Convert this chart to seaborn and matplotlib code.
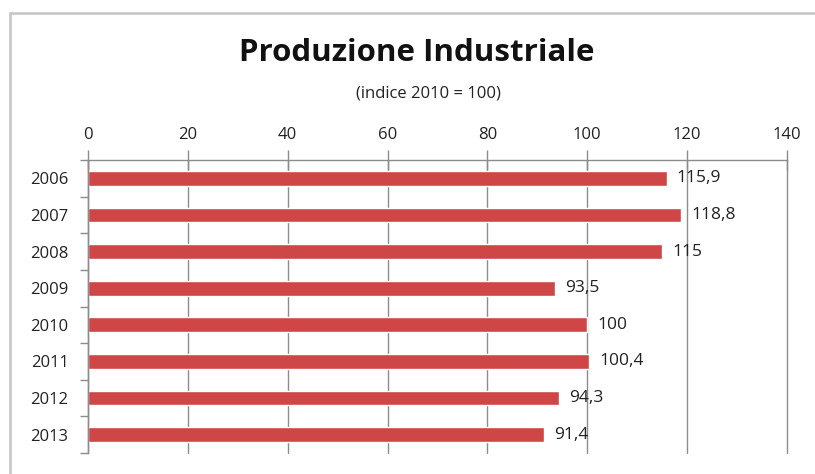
import matplotlib
matplotlib.use("Agg")
import matplotlib.pyplot as plt
import seaborn as sns
import pandas as pd
from matplotlib.lines import Line2D

years = ["2006", "2007", "2008", "2009", "2010", "2011", "2012", "2013"]
values = [115.9, 118.8, 115, 93.5, 100, 100.4, 94.3, 91.4]
xticks = [0, 20, 40, 60, 80, 100, 120, 140]

sns.set_theme(style="white")
plt.rcParams['font.family'] = ['Open Sans', 'DejaVu Sans']

df = pd.DataFrame({"anno": years, "indice": values})

fig = plt.figure(figsize=(8.15, 4.74), dpi=100)
ax = fig.add_axes([88/815, 1-453/474, (787-88)/815, (453-160)/474])

sns.barplot(data=df, x="indice", y="anno", orient="h", color="#CE4646",
            saturation=1, width=0.4, ax=ax, order=years)

ax.set_xlim(0, 140)
ax.set_ylim(7.5, -0.5)
ax.set_xticks(xticks)
ax.set_xlabel("")
ax.set_ylabel("")
ax.xaxis.grid(True, color="#8c8c8c", linewidth=1)
ax.set_axisbelow(True)
ax.tick_params(axis="x", top=True, labeltop=True, bottom=False, labelbottom=False,
               direction="inout", length=14, width=1, color="#8c8c8c",
               labelsize=12, labelcolor="#222222", pad=5)
ax.tick_params(axis="y", which="major", length=0, labelsize=12, labelcolor="#222222", pad=14)
ax.set_yticks([i - 0.5 for i in range(len(years) + 1)], minor=True)
ax.tick_params(axis="y", which="minor", left=True, length=6, width=1, color="#8c8c8c", direction="out")
for gl in ax.get_xgridlines():
    gl.set_clip_on(False)

for side in ["right", "bottom"]:
    ax.spines[side].set_visible(False)
for side in ["top", "left"]:
    ax.spines[side].set_visible(True)
    ax.spines[side].set_color("#8c8c8c")
    ax.spines[side].set_linewidth(1)

for i, v in enumerate(values):
    ax.text(v + 2, i, f"{v:g}".replace(".", ","), va="center", ha="left",
            fontsize=12.5, color="#222222")

fig.text(417/815, 1-53/474, "Produzione Industriale", ha="center", va="center",
         fontsize=22.5, fontweight="bold", color="#111111")
fig.text(428/815, 1-94/474, "(indice 2010 = 100)", ha="center", va="center",
         fontsize=12, color="#222222")

fig.add_artist(Line2D([10/815, 1.0], [1-13/474, 1-13/474], transform=fig.transFigure,
                      color="#c4c4c4", linewidth=1.8))
fig.add_artist(Line2D([10/815, 10/815], [0, 1-13/474], transform=fig.transFigure,
                      color="#c4c4c4", linewidth=1.8))

fig.savefig("out.png", dpi=100)
